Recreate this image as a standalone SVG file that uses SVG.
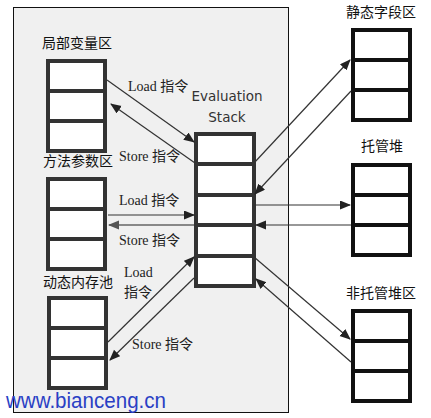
<svg xmlns="http://www.w3.org/2000/svg" width="431" height="418" viewBox="0 0 431 418">
<style>
.box{fill:#ffffff;stroke:#333333;stroke-width:4}
.rbox{fill:#ffffff;stroke:#111111;stroke-width:4}
.div{stroke:#333333;stroke-width:4}
.rdiv{stroke:#111111;stroke-width:4}
.cn{font-family:"Noto Sans CJK SC","Liberation Sans",sans-serif;font-size:14px;fill:#111}
.lb{font-family:"Liberation Serif","Noto Sans CJK SC",serif;font-size:14px;fill:#222}
.ev{font-family:"DejaVu Sans",sans-serif;font-size:13.5px;fill:#333}
.ln{stroke:#333333;stroke-width:1.2;fill:none}
</style>
<defs>
<marker id="ah" markerUnits="userSpaceOnUse" markerWidth="11" markerHeight="10" refX="10" refY="4.5" orient="auto">
<path d="M0,0 L11,4.5 L0,9 Z" fill="#222"/>
</marker>
<marker id="ahg" markerUnits="userSpaceOnUse" markerWidth="11" markerHeight="10" refX="10" refY="4.5" orient="auto">
<path d="M0,0 L11,4.5 L0,9 Z" fill="#555"/>
</marker>
</defs>
<rect x="13.5" y="7.5" width="275" height="405" fill="#f0f0f0" stroke="#111" stroke-width="1"/>

<g id="local-vars">
<text class="cn" x="42" y="48">局部变量区</text>
<rect class="box" x="48" y="61" width="57" height="90"/>
<line class="div" x1="48" y1="91" x2="105" y2="91"/>
<line class="div" x1="48" y1="121" x2="105" y2="121"/>
</g>
<g id="method-args">
<text class="cn" x="43" y="166">方法参数区</text>
<rect class="box" x="48" y="179" width="57" height="90"/>
<line class="div" x1="48" y1="209" x2="105" y2="209"/>
<line class="div" x1="48" y1="239" x2="105" y2="239"/>
</g>
<g id="dynamic-pool">
<text class="cn" x="43" y="287">动态内存池</text>
<rect class="box" x="49" y="298" width="57" height="90"/>
<line class="div" x1="49" y1="328" x2="106" y2="328"/>
<line class="div" x1="49" y1="358" x2="106" y2="358"/>
</g>
<g id="eval-stack">
<text class="ev" x="227" y="101" text-anchor="middle">Evaluation</text>
<text class="ev" x="227" y="122" text-anchor="middle">Stack</text>
<rect class="box" x="196" y="134" width="58" height="152"/>
<line class="div" x1="196" y1="164" x2="254" y2="164"/>
<line class="div" x1="196" y1="195" x2="254" y2="195"/>
<line class="div" x1="196" y1="225" x2="254" y2="225"/>
<line class="div" x1="196" y1="256" x2="254" y2="256"/>
</g>
<g id="static-fields">
<text class="cn" x="346" y="17">静态字段区</text>
<rect class="rbox" x="353" y="30" width="57" height="90"/>
<line class="rdiv" x1="353" y1="60" x2="410" y2="60"/>
<line class="rdiv" x1="353" y1="90" x2="410" y2="90"/>
</g>
<g id="managed-heap">
<text class="cn" x="382" y="151" text-anchor="middle">托管堆</text>
<rect class="rbox" x="353" y="165" width="57" height="90"/>
<line class="rdiv" x1="353" y1="195" x2="410" y2="195"/>
<line class="rdiv" x1="353" y1="225" x2="410" y2="225"/>
</g>
<g id="unmanaged-heap">
<text class="cn" x="346" y="298">非托管堆区</text>
<rect class="rbox" x="353" y="311" width="57" height="90"/>
<line class="rdiv" x1="353" y1="341" x2="410" y2="341"/>
<line class="rdiv" x1="353" y1="371" x2="410" y2="371"/>
</g>

<g id="connectors">
<line class="ln" x1="107" y1="80" x2="194" y2="142" marker-end="url(#ah)"/>
<line class="ln" x1="195" y1="163" x2="111" y2="104" marker-end="url(#ah)"/>
<line class="ln" x1="108" y1="215" x2="194" y2="215" stroke-width="1.5" marker-end="url(#ah)"/>
<line x1="194" y1="225" x2="109" y2="225" stroke="#888" stroke-width="2" marker-end="url(#ahg)"/>
<line class="ln" x1="108" y1="342" x2="194" y2="257" marker-end="url(#ah)"/>
<line class="ln" x1="194" y1="278" x2="110" y2="360" marker-end="url(#ah)"/>
<line class="ln" x1="254" y1="163" x2="350" y2="60" marker-end="url(#ah)"/>
<line class="ln" x1="351" y1="91" x2="255" y2="194" marker-end="url(#ah)"/>
<line class="ln" x1="254" y1="205" x2="350" y2="205" marker-end="url(#ah)"/>
<line class="ln" x1="351" y1="225" x2="256" y2="225" marker-end="url(#ah)"/>
<line class="ln" x1="254" y1="257" x2="350" y2="339" marker-end="url(#ah)"/>
<line class="ln" x1="351" y1="362" x2="256" y2="279" marker-end="url(#ah)"/>
<text class="lb" x="128" y="91">Load 指令</text>
<text class="lb" x="119" y="161">Store 指令</text>
<text class="lb" x="119" y="205">Load 指令</text>
<text class="lb" x="119" y="245">Store 指令</text>
<text class="lb" x="124" y="277">Load</text>
<text class="lb" x="124" y="297">指令</text>
<text class="lb" x="132" y="349">Store 指令</text>
</g>
<text x="6" y="408" font-family="Liberation Sans,Arial,sans-serif" font-size="22" fill="#2a3fc4" textLength="160" lengthAdjust="spacingAndGlyphs">www.bianceng.cn</text>
</svg>
